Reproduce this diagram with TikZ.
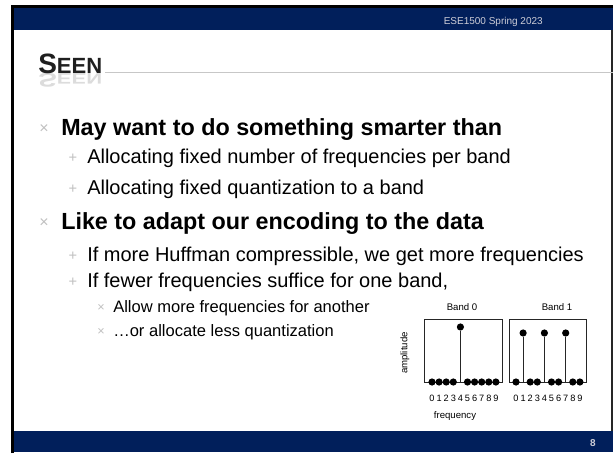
\documentclass[tikz,border=0pt]{standalone}
\usepackage{fontspec}
\setmainfont{Liberation Sans}
\usepackage{graphicx}
\definecolor{pennnavy}{RGB}{1,31,91}
\definecolor{bulgray}{RGB}{192,192,192}
\definecolor{bartext}{RGB}{205,205,215}
\begin{document}
\begin{tikzpicture}[x=0.75pt,y=-0.75pt,
  lvlone/.style={anchor=base west, inner sep=0pt, font=\fontsize{17.5pt}{20pt}\selectfont\bfseries},
  lvltwo/.style={anchor=base west, inner sep=0pt, font=\fontsize{15pt}{18pt}\selectfont},
  lvlthree/.style={anchor=base west, inner sep=0pt, font=\fontsize{12.4pt}{15pt}\selectfont},
  bulone/.style={anchor=base, inner sep=0pt, text=bulgray, font=\fontsize{12pt}{14pt}\selectfont},
  bultwo/.style={anchor=base, inner sep=0pt, text=bulgray, font=\fontsize{11pt}{13pt}\selectfont},
  bulthree/.style={anchor=base, inner sep=0pt, text=bulgray, font=\fontsize{9.5pt}{11pt}\selectfont},
  plotlabel/.style={inner sep=0pt, font=\fontsize{7.2pt}{9pt}\selectfont},
  digit/.style={anchor=base, inner sep=0pt, font=\fontsize{6.9pt}{8pt}\selectfont},
  dot/.style={circle, fill=black, inner sep=0pt, minimum size=5.4pt},
  plotbox/.style={draw=black!85, line width=0.6pt},
  stem/.style={draw=black!85, line width=0.6pt},
  bartxt/.style={inner sep=0pt, text=bartext, font=\fontsize{7.5pt}{9pt}\selectfont}
]
% page
\fill[white] (0,0) rectangle (613,453);
\useasboundingbox (0,0) rectangle (613,453);
% navy bars
\fill[pennnavy] (13.5,8) rectangle (613,30);
\fill[pennnavy] (13.5,431) rectangle (613,452);
% slide frame
\draw[black, line width=1.95pt] (12.3,453) -- (12.3,6.5) -- (613,6.5);
\draw[black!85, line width=1.2pt] (611.7,30) -- (611.7,431);
% header / footer text
\node[bartxt, anchor=base east] (hdr) at (543,24.5) {ESE1500 Spring 2023};
\node[bartxt, font=\fontsize{7.5pt}{9pt}\selectfont\bfseries] (pg) at (593,443) {8};
% title
\draw[black!22, line width=0.75pt] (105,73) -- (613,73);
\node[anchor=base west, inner sep=0pt, text=black!30, opacity=0.45, font=\bfseries] (titlerefl) at (38,74)
  {\scalebox{1}[-0.7]{{\fontsize{21pt}{24pt}\selectfont S}{\fontsize{16.5pt}{20pt}\selectfont EEN}}};
\node[anchor=base west, inner sep=0pt, text=black!88, font=\bfseries] (title) at (38,74)
  {{\fontsize{21pt}{24pt}\selectfont S}{\fontsize{16.5pt}{20pt}\selectfont EEN}};
% bullets
\node[bulone] (b1) at (44,133) {×};
\node[lvlone] (t1) at (61,135) {May want to do something smarter than};
\node[bultwo] (b2) at (73,162) {+};
\node[lvltwo] (t2) at (87,163) {Allocating fixed number of frequencies per band};
\node[bultwo] (b3) at (73,193) {+};
\node[lvltwo] (t3) at (87,194) {Allocating fixed quantization to a band};
\node[bulone] (b4) at (44,227) {×};
\node[lvlone] (t4) at (61,229) {Like to adapt our encoding to the data};
\node[bultwo] (b5) at (73,260) {+};
\node[lvltwo] (t5) at (87,261) {If more Huffman compressible, we get more frequencies};
\node[bultwo] (b6) at (73,286) {+};
\node[lvltwo] (t6) at (87,287) {If fewer frequencies suffice for one band,};
\node[bulthree] (b7) at (101,311) {×};
\node[lvlthree] (t7) at (113,312) {Allow more frequencies for another};
\node[bulthree] (b8) at (101,335) {×};
\node[lvlthree] (t8) at (113,336) {…or allocate less quantization};
% plot
\node[plotlabel] (band0) at (462,307) {Band 0};
\node[plotlabel] (band1) at (557,307) {Band 1};
\node[plotlabel, rotate=90] (amp) at (405,353) {amplitude};
\node[plotlabel] (freq) at (455,416) {frequency};
\draw[plotbox] (424,319) rectangle (502,382);
\draw[plotbox] (509,319) rectangle (586,382);
% digits under the axes
\foreach \i in {0,...,9} {
  \node[digit] (bz\i) at ({432+7.1*\i},401) {\i};
  \node[digit] (bo\i) at ({516+7.1*\i},401) {\i};
}
% band 0: tall at index 4
\foreach \i in {0,1,2,3,5,6,7,8,9} {
  \node[dot] (dz\i) at ({432+7.1*\i},382) {};
}
\coordinate (dz4base) at ({432+7.1*4},382);
\node[dot] (dz4) at ({432+7.1*4},327) {};
\draw[stem] (dz4base) -- (dz4);
% band 1: tall at indices 1,4,7
\foreach \i in {0,2,3,5,6,8,9} {
  \node[dot] (do\i) at ({516+7.1*\i},382) {};
}
\foreach \i in {1,4,7} {
  \coordinate (do\i base) at ({516+7.1*\i},382);
  \node[dot] (do\i) at ({516+7.1*\i},333) {};
  \draw[stem] (do\i base) -- (do\i);
}
\end{tikzpicture}
\end{document}
